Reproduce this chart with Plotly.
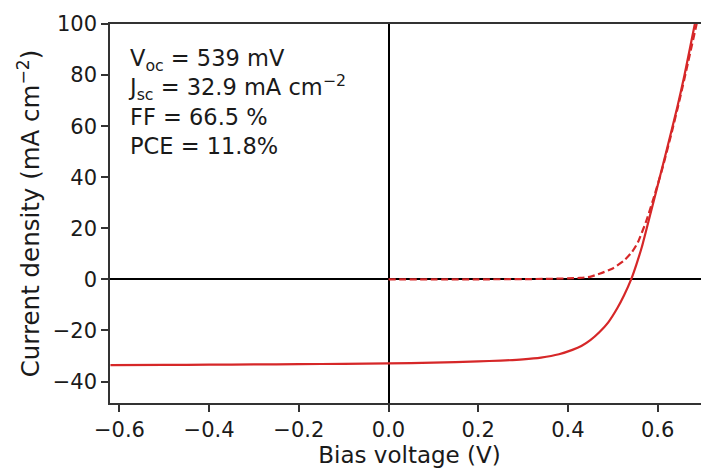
import plotly.graph_objects as go

# Light J-V (solid)
v_light = [-0.62, -0.5, -0.4, -0.3, -0.2, -0.1, 0.0, 0.1, 0.2, 0.25, 0.3, 0.34, 0.38,
           0.41, 0.43, 0.45, 0.47, 0.49, 0.51, 0.525, 0.541, 0.553, 0.565, 0.583, 0.602,
           0.62, 0.644, 0.66, 0.683, 0.69]
j_light = [-33.6, -33.5, -33.4, -33.3, -33.2, -33.05, -32.9, -32.6, -32.1, -31.8, -31.3, -30.6, -29.3,
           -27.6, -26.1, -23.8, -20.7, -16.8, -11.3, -6.3, 0.0, 6.0, 12.8, 25.0, 38.0,
           50.5, 67.5, 80.0, 100.0, 106.0]

# Dark J-V (dashed)
v_dark = [0.0, 0.2, 0.3, 0.35, 0.4, 0.427, 0.449, 0.472, 0.5, 0.524, 0.542, 0.556, 0.576,
          0.594, 0.61, 0.63, 0.65, 0.668, 0.687, 0.695]
j_dark = [0.0, 0.03, 0.1, 0.2, 0.4, 0.6, 1.0, 2.3, 4.3, 7.2, 10.5, 14.5, 23.5,
          33.5, 43.0, 56.5, 71.0, 85.0, 100.0, 106.0]

x_ticks = [-0.6, -0.4, -0.2, 0.0, 0.2, 0.4, 0.6]
x_labels = ["−0.6", "−0.4", "−0.2", "0.0", "0.2", "0.4", "0.6"]
y_ticks = [-40, -20, 0, 20, 40, 60, 80, 100]
y_labels = ["−40", "−20", "0", "20", "40", "60", "80", "100"]

red = "#d62728"
font = "DejaVu Sans"

fig = go.Figure()
fig.add_trace(go.Scatter(x=v_dark, y=j_dark, mode="lines",
                         line=dict(color=red, width=2.2, dash="7px,3.5px", shape="spline", smoothing=0.5),
                         showlegend=False, hoverinfo="skip"))
fig.add_trace(go.Scatter(x=v_light, y=j_light, mode="lines",
                         line=dict(color=red, width=2.2, shape="spline", smoothing=0.5),
                         showlegend=False, hoverinfo="skip"))

# page body has an 8px margin: figure is placed at (8, 8) in the window
fig.update_layout(
    width=701, height=460,
    margin=dict(l=102, r=0, t=16, b=65),
    paper_bgcolor="white", plot_bgcolor="white",
    font=dict(family=font, size=21, color="#1a1a1a"),
    xaxis=dict(range=[-0.621, 0.7146], tickvals=x_ticks, ticktext=x_labels,
               ticks="outside", ticklen=7, tickwidth=1.5, tickcolor="#333",
               showline=True, linecolor="#333", linewidth=1.5, mirror=True,
               showgrid=False, zeroline=True, zerolinecolor="black", zerolinewidth=2.2,
               automargin=False,
               title=dict(text="Bias voltage (V)", standoff=5, font=dict(size=23)),
               tickfont=dict(size=21)),
    yaxis=dict(range=[-48.4, 100], tickvals=y_ticks, ticktext=y_labels,
               ticks="outside", ticklen=7, tickwidth=1.5, tickcolor="#333",
               showline=True, linecolor="#333", linewidth=1.5,
               showgrid=False, zeroline=True, zerolinecolor="black", zerolinewidth=2.2,
               automargin=False,
               title=dict(text="Current density (mA cm<sup>−2</sup>)", standoff=6, font=dict(size=24.5)),
               tickfont=dict(size=21)),
)

fig.add_annotation(
    xref="paper", yref="paper", x=0.027, y=0.95, xanchor="left", yanchor="top",
    align="left", showarrow=False,
    text="V<sub>oc</sub> = 539 mV<br>J<sub>sc</sub> = 32.9 mA cm<sup>−2</sup><br>FF = 66.5 %<br>PCE = 11.8%",
    font=dict(family=font, size=22.5, color="#1a1a1a"),
)

fig.write_html("out.html")
